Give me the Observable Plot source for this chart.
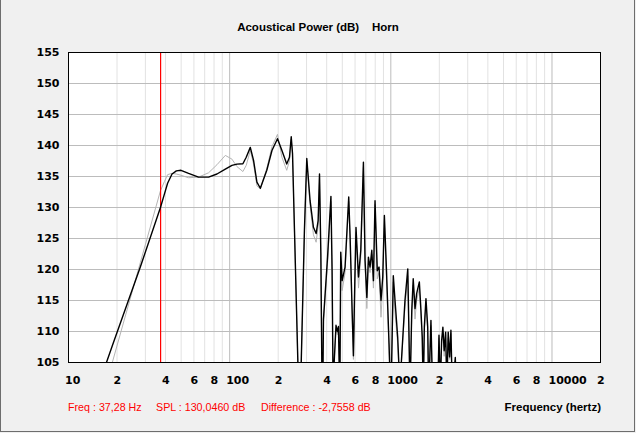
<!DOCTYPE html>
<html>
<head>
<meta charset="utf-8">
<script src="https://cdn.jsdelivr.net/npm/d3@7"></script>
<script src="https://cdn.jsdelivr.net/npm/@observablehq/plot@0.6"></script>
<style>
  html, body { margin: 0; padding: 0; background: #f0f0f0; }
  #win { position: relative; width: 636px; height: 433px; background: #f0f0f0; overflow: hidden; }
  #border { position: absolute; left: 0; top: -1px; width: 635px; height: 433px; box-sizing: border-box; border: 1px solid #6d6d6d; pointer-events: none; }
  #chart { position: absolute; left: 0; top: 0; }
  .t { position: absolute; white-space: pre; line-height: 14px; font-family: "Liberation Sans", Arial, sans-serif; }
  #title { left: 0; width: 636px; top: 20px; text-align: center; font-size: 11.5px; font-weight: bold; color: #000; }
  .red { top: 400px; font-size: 10.7px; color: #ff0000; }
  #xlabel { top: 400px; right: 35px; font-size: 11.5px; font-weight: bold; color: #000; }
</style>
</head>
<body>
<div id="win">
  <div id="chart"></div>
  <div id="title" class="t"></div>
  <div id="s1" class="t red" style="left:68px"></div>
  <div id="s2" class="t red" style="left:156px"></div>
  <div id="s3" class="t red" style="left:261px"></div>
  <div id="xlabel" class="t"></div>
  <div id="border"></div>
</div>
<script>
// ---- texts ----
const titleText = "Acoustical Power (dB)    Horn";
const xAxisTitle = "Frequency (hertz)";
const statusTexts = ["Freq : 37,28 Hz", "SPL : 130,0460 dB", "Difference : -2,7558 dB"];
const cursorFreq = [37.28];

// ---- axes ----
const xDomain = [10, 20000];
const yDomain = [105, 155];
const xTickValues = [10, 20, 40, 60, 80, 100, 200, 400, 600, 800, 1000, 2000, 4000, 6000, 8000, 10000, 20000];
const xTickLabels = ["10", "2", "4", "6", "8", "100", "2", "4", "6", "8", "1000", "2", "4", "6", "8", "10000", "2"];
const xMinorGrid = [20, 30, 40, 50, 60, 70, 80, 90, 200, 300, 400, 500, 600, 700, 800, 900, 2000, 3000, 4000, 5000, 6000, 7000, 8000, 9000];
const xMajorGrid = [100, 1000, 10000];
const yTicks = [105, 110, 115, 120, 125, 130, 135, 140, 145, 150, 155];
const yGrid = [110, 115, 120, 125, 130, 135, 140, 145, 150];

// ---- series (frequency in Hz, level in dB) ----
const freqHz = [17.2, 18.7, 27.9, 37.2, 39.4, 41.2, 43.9, 46.7, 49.9, 55.6, 64.1, 74, 83.4, 94, 103.3, 111, 120.8, 126.7, 134.3, 140.7, 147.6, 155, 170, 183, 198, 211, 226, 235, 241, 245.5, 252.5, 265, 271, 278, 291, 301, 315.5, 331, 344, 354, 361, 368, 373, 377, 382, 405, 425, 432, 437, 440, 445, 457, 466, 473, 478, 481, 484, 489, 499, 520, 548, 559, 576, 586, 598, 608, 630, 651, 676, 692, 710, 726, 743, 762, 780, 798, 824, 845, 869, 891, 912, 940, 975, 988, 1000, 1012, 1036, 1062, 1103, 1125, 1140, 1156, 1224, 1274, 1297, 1315, 1349, 1377, 1413, 1446, 1503, 1538, 1567, 1589, 1614, 1652, 1694, 1718, 1774, 1818, 1900, 1954, 1990, 2028, 2066, 2104, 2143, 2188, 2228, 2270, 2317, 2360, 2404, 2470, 2512, 2560, 2700];
const hornDb = [105, 107.7, 120.4, 130.0, 132.2, 133.9, 135.4, 135.9, 136.0, 135.5, 134.9, 134.9, 135.4, 136.2, 136.8, 137.0, 137.05, 138.1, 139.7, 137.6, 134.1, 133.1, 136.0, 139.2, 141.1, 139.2, 137.0, 138.1, 141.4, 138.7, 126.3, 105, 96, 105, 126.3, 137.9, 131.1, 126.8, 125.8, 127.9, 135.4, 122.5, 105, 97, 112.0, 122.0, 131.8, 120.0, 105, 99, 105, 111.0, 110.0, 110.8, 105, 99, 105, 122.8, 118.2, 120.4, 131.7, 125.2, 112.9, 106.1, 118.2, 126.8, 118.8, 123.1, 137.3, 121.5, 115.5, 122.0, 120.4, 123.1, 118.2, 131.1, 119.8, 120.4, 115.0, 118.8, 128.7, 119.8, 108.0, 103, 98, 105, 119.0, 115.0, 109.1, 104, 99, 104, 115.0, 120.1, 109.1, 100, 113.4, 118.5, 113.7, 116.1, 118.0, 113.4, 109.1, 100, 110.7, 115.3, 110.7, 100, 111.8, 100, 96, 100, 109.4, 101, 108.5, 110.7, 106.9, 109.9, 101, 109.9, 105.9, 110.2, 101, 103.5, 105.8, 100, 95];
const refDb = [101.6, 105, 121.1, 132.7, 134.2, 135.3, 135.5, 135.4, 135.2, 134.8, 134.9, 135.6, 136.9, 138.4, 137.8, 136.6, 135.8, 136.8, 139.2, 137.0, 133.5, 133.0, 136.3, 139.8, 141.8, 138.1, 136.0, 137.5, 141.0, 138.5, 126.0, 105, 96, 105, 126.0, 137.5, 130.3, 125.6, 124.4, 127.0, 135.0, 122.0, 105, 97, 111.5, 121.0, 131.0, 119.5, 105, 99, 105, 110.5, 109.5, 110.2, 105, 99, 105, 121.5, 116.6, 119.5, 131.0, 124.5, 112.0, 105.5, 117.5, 126.0, 117.0, 122.0, 136.5, 120.5, 113.7, 121.0, 119.5, 122.5, 117.0, 130.5, 118.5, 119.5, 112.3, 117.5, 128.0, 118.5, 107.0, 102, 98, 105, 118.0, 113.0, 108.0, 103, 99, 104, 114.0, 119.0, 108.0, 100, 112.5, 117.5, 112.0, 115.0, 117.0, 112.5, 108.0, 100, 110.0, 114.5, 110.0, 100, 111.0, 100, 96, 100, 109.0, 101, 108.0, 110.0, 106.0, 109.5, 101, 109.0, 105.5, 109.8, 101, 103.5, 105.2, 100, 95];

const rows = freqHz.map((f, i) => ({f, horn: hornDb[i], ref: refDb[i]}));

const chart = Plot.plot({
  width: 636,
  height: 433,
  marginLeft: 68,
  marginRight: 36,
  marginTop: 52,
  marginBottom: 71,
  style: {background: "transparent", fontFamily: "'DejaVu Sans', Verdana, sans-serif", fontSize: "11px", fontWeight: "bold", color: "#000"},
  x: {type: "log", domain: xDomain, axis: null},
  y: {domain: yDomain, axis: null},
  marks: [
    Plot.frame({fill: "white"}),
    Plot.gridX(xMinorGrid, {stroke: "#e2e2e2", strokeOpacity: 1}),
    Plot.gridX(xMajorGrid, {stroke: "#bcbcbc", strokeOpacity: 1}),
    Plot.gridY(yGrid, {stroke: "#bcbcbc", strokeOpacity: 1}),
    Plot.line(rows, {x: "f", y: "ref", stroke: "#b4b4b4", strokeWidth: 1, clip: true}),
    Plot.ruleX(cursorFreq, {stroke: "#ff0000", strokeWidth: 1.2}),
    Plot.line(rows, {x: "f", y: "horn", stroke: "#000", strokeWidth: 1.4, clip: true}),
    Plot.frame({stroke: "#000", strokeWidth: 1}),
    Plot.text(xTickValues, {x: d => d, text: (d, i) => xTickLabels[i], frameAnchor: "bottom", lineAnchor: "middle", dy: 17.5, dx: -3.5, textAnchor: "start", fill: "#000"}),
    Plot.axisY(yTicks, {tickSize: 0, tickPadding: 9, label: null, fill: "#000"})
  ]
});
document.getElementById("chart").appendChild(chart);
document.getElementById("title").textContent = titleText;
document.getElementById("xlabel").textContent = xAxisTitle;
document.getElementById("s1").textContent = statusTexts[0];
document.getElementById("s2").textContent = statusTexts[1];
document.getElementById("s3").textContent = statusTexts[2];
</script>
</body>
</html>
